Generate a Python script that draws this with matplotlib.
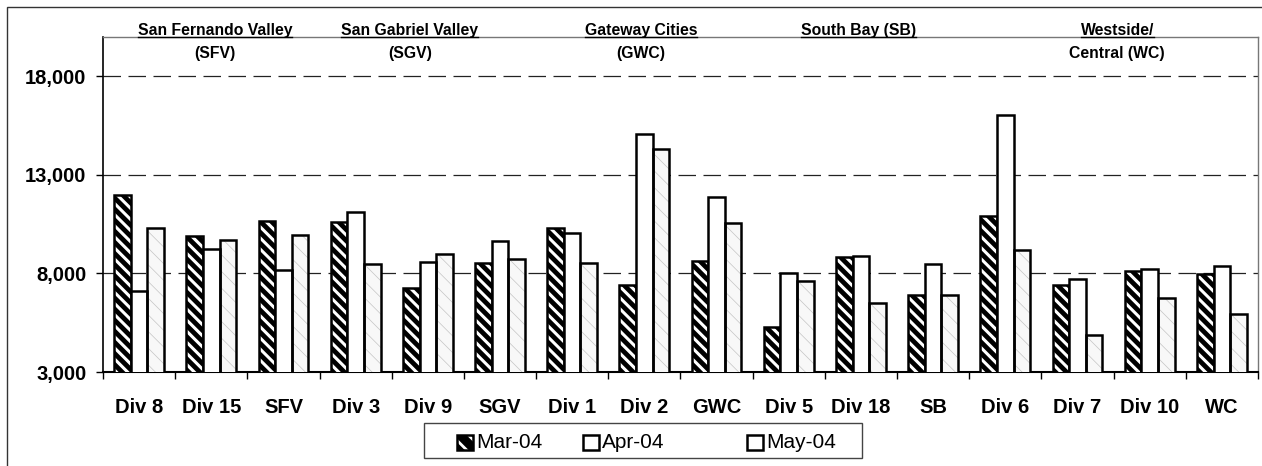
import matplotlib
matplotlib.use("Agg")
import matplotlib.pyplot as plt
import numpy as np
from matplotlib.lines import Line2D
from matplotlib.patches import Rectangle
from matplotlib.ticker import FuncFormatter, FixedLocator

plt.rcParams["font.family"] = ["Liberation Sans", "DejaVu Sans"]

categories = ["Div 8", "Div 15", "SFV", "Div 3", "Div 9", "SGV", "Div 1", "Div 2",
              "GWC", "Div 5", "Div 18", "SB", "Div 6", "Div 7", "Div 10", "WC"]
mar_04 = [12000, 9900, 10650, 10600, 7250, 8550, 10330, 7400,
          8630, 5280, 8850, 6930, 10920, 7400, 8120, 7980]
apr_04 = [7100, 9220, 8170, 11130, 8600, 9650, 10040, 15100,
          11900, 8030, 8880, 8490, 16030, 7730, 8240, 8370]
may_04 = [10300, 9680, 9940, 8460, 8970, 8710, 8510, 14300,
          10550, 7610, 6500, 6930, 9190, 4890, 6760, 5960]
series_names = ["Mar-04", "Apr-04", "May-04"]

region_line1 = ["San Fernando Valley", "San Gabriel Valley", "Gateway Cities",
                "South Bay (SB)", "Westside/"]
region_line2 = ["(SFV)", "(SGV)", "(GWC)", "", "Central (WC)"]
region_x = [1.05, 3.75, 6.95, 9.97, 13.55]

W, H = 1262, 466
fig = plt.figure(figsize=(W / 100, H / 100), dpi=100)
ax = fig.add_axes([0.0816, 0.2017, 0.9152, 0.7189])


def px(xp, yp):
    # pixel position (from top-left) to figure fraction
    return xp / W, 1 - yp / H


x = np.arange(len(categories))
w = 0.23

# Mar: black bars with white diagonal stripes
plt.rcParams["hatch.linewidth"] = 2.2
ax.bar(x - w, mar_04, w, color="black", edgecolor="white",
       hatch="\\\\\\", linewidth=0, zorder=3)
ax.bar(x - w, mar_04, w, fill=False, edgecolor="black", linewidth=1.8, zorder=4)

# Apr: plain white
ax.bar(x, apr_04, w, color="white", edgecolor="black", linewidth=1.8, zorder=4)

# May: light stipple
plt.rcParams["hatch.linewidth"] = 0.5
ax.bar(x + w, may_04, w, color="#f8f8f8", edgecolor="#c4c4c4",
       hatch="\\\\", linewidth=0, zorder=3)
ax.bar(x + w, may_04, w, fill=False, edgecolor="black", linewidth=1.8, zorder=4)

ax.set_ylim(3000, 20000)
ax.set_xlim(-0.5, len(categories) - 0.5)
ax.set_yticks([3000, 8000, 13000, 18000])
ax.yaxis.set_major_formatter(FuncFormatter(lambda v, p: f"{int(v):,}"))
ax.tick_params(axis="y", length=5, width=1, pad=7, labelsize=14.5)
for lbl in ax.get_yticklabels():
    lbl.set_fontweight("bold")

ax.set_xticks(x)
ax.set_xticklabels(categories, fontsize=14.5, fontweight="bold")
ax.tick_params(axis="x", which="major", length=0, pad=19)
ax.xaxis.set_minor_locator(FixedLocator(np.arange(-0.5, len(categories), 1.0)))
ax.tick_params(axis="x", which="minor", length=5, width=1)

for yv in [8000, 13000, 18000]:
    ax.axhline(yv, color="#222222", linewidth=0.9, dashes=(14, 6), zorder=1)

ax.spines["left"].set_linewidth(1.2)
ax.spines["bottom"].set_linewidth(1.5)
for side in ["top", "right"]:
    ax.spines[side].set_color("#777777")
    ax.spines[side].set_linewidth(1.0)
    ax.spines[side].set_linestyle((0, (2, 1)))

# region labels above the groups
tr = ax.get_xaxis_transform()
line1_texts = []
for rx, t1, t2 in zip(region_x, region_line1, region_line2):
    t = ax.text(rx, 1.006, t1, transform=tr, ha="center", va="baseline",
                fontsize=11.3, fontweight="bold", clip_on=False)
    line1_texts.append(t)
    if t2:
        ax.text(rx, 0.937, t2, transform=tr, ha="center", va="baseline",
                fontsize=11.3, fontweight="bold")

# legend box drawn by hand (Excel-style fixed columns)
fig.add_artist(Rectangle(px(424, 458), 438 / W, 35 / H, transform=fig.transFigure,
                         facecolor="white", edgecolor="#444444", linewidth=1.0))
legend_x = [457, 583, 747]
hw, hh = 16, 15
for i, (lx, name) in enumerate(zip(legend_x, series_names)):
    x0, y0 = px(lx, 450)
    if i == 0:
        plt.rcParams["hatch.linewidth"] = 2.0
        fig.add_artist(Rectangle((x0, y0), hw / W, hh / H, transform=fig.transFigure,
                                 facecolor="black", edgecolor="white", hatch="\\\\",
                                 linewidth=0))
    fig.add_artist(Rectangle((x0, y0), hw / W, hh / H, transform=fig.transFigure,
                             fill=(i != 0), facecolor="white", edgecolor="black",
                             linewidth=1.8))
    tx, ty = px(lx + hw + 3, 442)
    fig.text(tx, ty, name, ha="left", va="center", fontsize=15)

# outer chart border
fig.add_artist(Rectangle((7 / W, -0.2), 1.2, 1.2 - 7 / H, transform=fig.transFigure,
                         fill=False, edgecolor="#333333", linewidth=1.0))

# underline the first line of each region label
fig.canvas.draw()
renderer = fig.canvas.get_renderer()
inv = fig.transFigure.inverted()
for t in line1_texts:
    bb = t.get_window_extent(renderer)
    base = ax.transAxes.transform((0, 1.006))[1] - 2
    (x0, y0), (x1, _) = inv.transform([(bb.x0, base), (bb.x1, base)])
    fig.add_artist(Line2D([x0, x1], [y0, y0], transform=fig.transFigure,
                          color="black", linewidth=1.0))

fig.savefig("out.png", dpi=100)
